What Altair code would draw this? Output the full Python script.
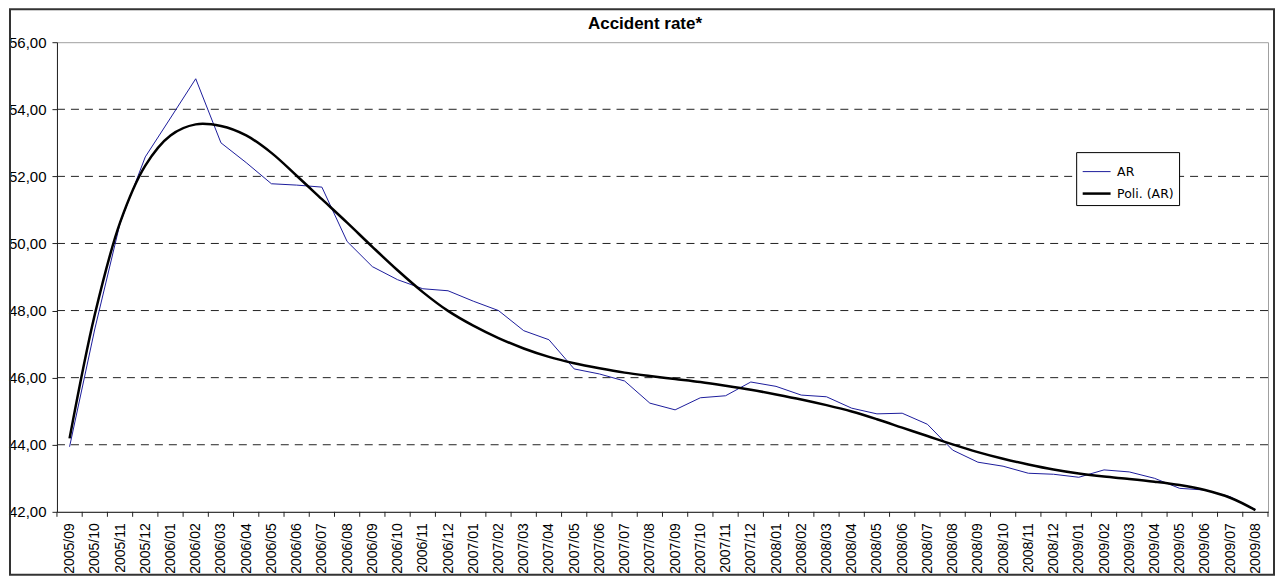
import altair as alt
import pandas as pd

TITLE = "Accident rate*"

months = [
    "2005/09", "2005/10", "2005/11", "2005/12",
    "2006/01", "2006/02", "2006/03", "2006/04", "2006/05", "2006/06",
    "2006/07", "2006/08", "2006/09", "2006/10", "2006/11", "2006/12",
    "2007/01", "2007/02", "2007/03", "2007/04", "2007/05", "2007/06",
    "2007/07", "2007/08", "2007/09", "2007/10", "2007/11", "2007/12",
    "2008/01", "2008/02", "2008/03", "2008/04", "2008/05", "2008/06",
    "2008/07", "2008/08", "2008/09", "2008/10", "2008/11", "2008/12",
    "2009/01", "2009/02", "2009/03", "2009/04", "2009/05", "2009/06",
    "2009/07", "2009/08",
]

ar = [
    43.94, 47.45, 50.60, 52.58, 53.74, 54.91, 53.00, 52.41, 51.78, 51.74,
    51.68, 50.06, 49.31, 48.92, 48.65, 48.59, 48.28, 48.00, 47.40, 47.13,
    46.26, 46.11, 45.90, 45.24, 45.04, 45.40, 45.46, 45.87, 45.74, 45.48,
    45.43, 45.09, 44.92, 44.94, 44.61, 43.84, 43.48, 43.36, 43.15, 43.12,
    43.03, 43.25, 43.19, 43.00, 42.70, 42.65, 42.45, 42.07,
]

poly = [
    44.19, 47.88, 50.62, 52.32, 53.22, 53.55, 53.50, 53.22, 52.70, 52.02,
    51.32, 50.62, 49.90, 49.20, 48.55, 47.99, 47.55, 47.18, 46.87, 46.62,
    46.43, 46.28, 46.15, 46.05, 45.96, 45.87, 45.76, 45.64, 45.50, 45.35,
    45.18, 44.99, 44.76, 44.51, 44.26, 44.01, 43.78, 43.58, 43.41, 43.26,
    43.14, 43.05, 42.98, 42.90, 42.80, 42.65, 42.42, 42.05,
]

series_names = ["AR", "Poli. (AR)"]
y_ticks = [42, 44, 46, 48, 50, 52, 54, 56]

W, H = 1212, 470
FONT = "Liberation Sans"

n = len(months)
df = pd.DataFrame(
    {
        "i": list(range(n)) * 2,
        "value": ar + poly,
        "series": [series_names[0]] * n + [series_names[1]] * n,
    }
)
grid_df = pd.DataFrame({"g": y_ticks[1:-1]})
tick_df = pd.DataFrame({"b": [k - 0.5 for k in range(n + 1)]})
one_df = pd.DataFrame({"a": [0]})

label_array = "[" + ",".join("'" + m + "'" for m in months) + "]"

xscale = alt.Scale(domain=[-0.5, n - 0.5], nice=False, zero=False)
yscale = alt.Scale(domain=[y_ticks[0], y_ticks[-1]], nice=False, zero=False)

xaxis = alt.Axis(
    values=list(range(n)),
    labelExpr=label_array + "[datum.value]",
    labelAngle=270,
    labelFont=FONT,
    labelFontSize=14,
    labelColor="#000000",
    labelPadding=11,
    labelOverlap=False,
    labelFlush=False,
    labelBound=False,
    ticks=False,
    grid=False,
    domainColor="#222222",
    domainWidth=1,
    title=None,
)
yaxis = alt.Axis(
    values=y_ticks,
    labelExpr="replace(format(datum.value, '.2f'), '.', ',')",
    labelFont=FONT,
    labelFontSize=15,
    labelColor="#000000",
    labelPadding=6,
    tickSize=5,
    tickColor="#222222",
    domainColor="#222222",
    grid=False,
    title=None,
)


def X(field):
    return alt.X(field, scale=xscale, axis=xaxis)


def Y(field):
    return alt.Y(field, scale=yscale, axis=yaxis)


def make_legend():
    return alt.Legend(
        title=None,
        orient="none",
        legendX=1020,
        legendY=110,
        strokeColor="#000000",
        fillColor="#ffffff",
        padding=5,
        labelFont="DejaVu Sans",
        labelFontSize=12.5,
        labelColor="#000000",
        symbolType="stroke",
        symbolSize=780,
        rowPadding=-6,
        labelOffset=5,
    )


color = alt.Color(
    "series:O",
    scale=alt.Scale(domain=series_names, range=["#1c1c9c", "#000000"]),
    legend=make_legend(),
)
swidth = alt.StrokeWidth(
    "series:O",
    scale=alt.Scale(domain=series_names, range=[1, 2.5]),
    legend=make_legend(),
)

base = alt.Chart(df)

grid = (
    alt.Chart(grid_df)
    .mark_rule(color="#222222", strokeWidth=1, strokeDash=[8, 6])
    .encode(y=Y("g:Q"))
)

ticks = (
    alt.Chart(tick_df)
    .mark_rule(color="#222222", strokeWidth=1)
    .encode(x=X("b:Q"), y=alt.value(H), y2=alt.value(H + 5))
)

ar_line = (
    base.transform_filter(alt.datum.series == series_names[0])
    .mark_line(interpolate="linear")
    .encode(x=X("i:Q"), y=Y("value:Q"), color=color, strokeWidth=swidth)
)

poly_line = (
    base.transform_filter(alt.datum.series == series_names[1])
    .mark_line(interpolate="catmull-rom")
    .encode(x=X("i:Q"), y=Y("value:Q"), color=color, strokeWidth=swidth)
)

title = (
    alt.Chart(one_df)
    .mark_text(
        text=TITLE,
        font=FONT,
        fontSize=17,
        fontWeight="bold",
        align="center",
        baseline="alphabetic",
        color="#000000",
    )
    .encode(x=alt.value(588.5), y=alt.value(-13))
)

frame = (
    alt.Chart(one_df)
    .mark_rect(fillOpacity=0, stroke="#333333", strokeWidth=2)
    .encode(
        x=alt.value(-47),
        x2=alt.value(W + 6),
        y=alt.value(-33),
        y2=alt.value(H + 63),
    )
)

chart = (
    alt.layer(frame, grid, ticks, ar_line, poly_line, title)
    .properties(width=W, height=H, padding=0, background="#ffffff")
    .configure_view(stroke="#a0a0a0", strokeWidth=1)
)

chart.save("out.html", embed_options={"renderer": "svg", "actions": False})
